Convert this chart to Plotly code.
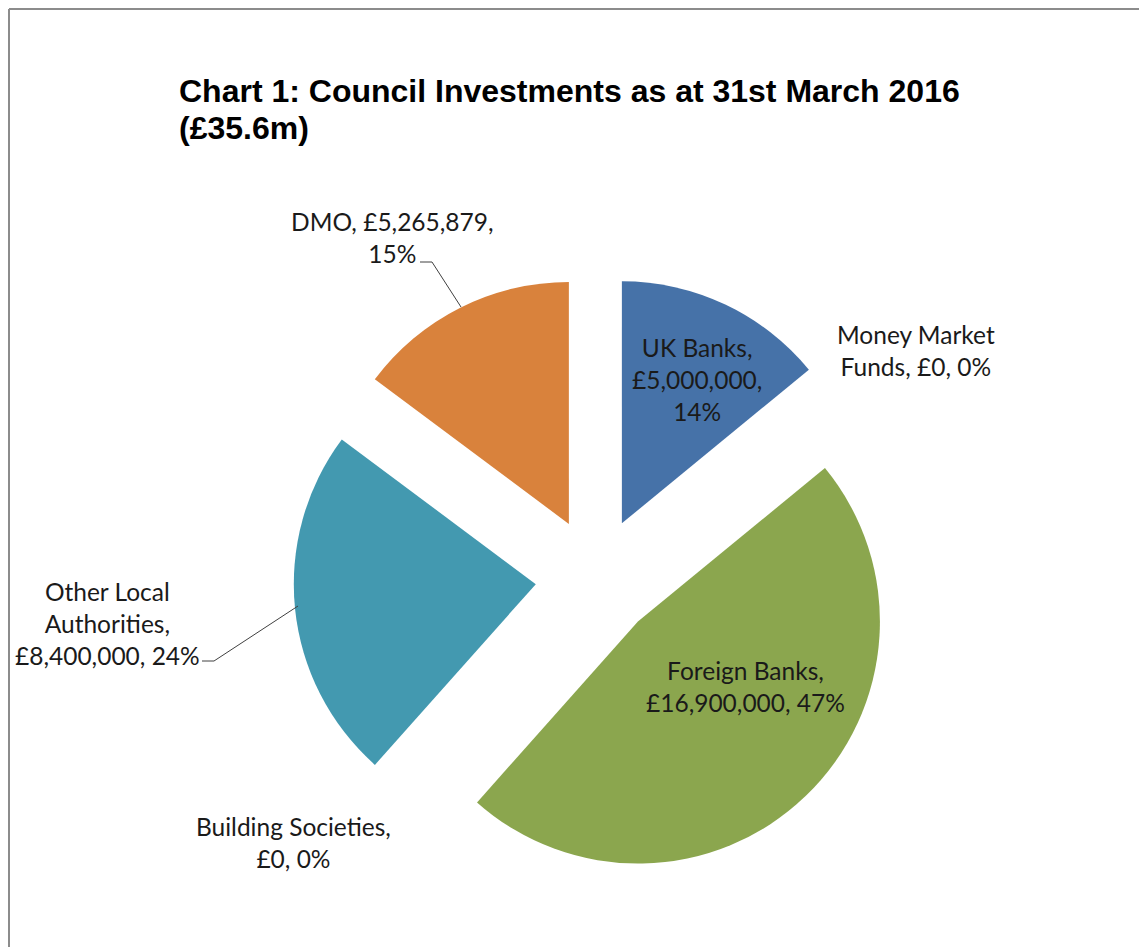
import plotly.graph_objects as go

# ---- data ----
categories = ["UK Banks", "Money Market Funds", "Foreign Banks",
              "Building Societies", "Other Local Authorities", "DMO"]
values = [5000000, 0, 16900000, 0, 8400000, 5265879]
percents = [14, 0, 47, 0, 24, 15]
colors = ["#4672A8", "#8FA9D0", "#8BA64E", "#B8C9E0", "#4399B0", "#D9823C"]

title_lines = ["Chart 1: Council Investments as at 31st March 2016", "(£35.6m)"]

# how each label wraps in the reference
label_lines = [
    ["UK Banks,", "£{v},", "{p}%"],
    ["Money Market", "Funds, £{v}, {p}%"],
    ["Foreign Banks,", "£{v}, {p}%"],
    ["Building Societies,", "£{v}, {p}%"],
    ["Other Local", "Authorities,", "£{v}, {p}%"],
    ["DMO, £{v},", "{p}%"],
]
# label centres in (screen) pixels
label_pos = [(697, 380), (916, 350), (745, 686), (293, 842), (107, 623), (392, 238)]

W, H = 1147, 947
OFF = 8  # page body margin


def px(x):
    return (x - OFF) / W


def py(y):
    return 1 - (y - OFF) / H


fig = go.Figure()
fig.add_trace(go.Pie(
    labels=categories,
    values=values,
    sort=False,
    direction="clockwise",
    rotation=0,
    pull=0.25,
    marker=dict(colors=colors, line=dict(width=0)),
    textinfo="none",
    hoverinfo="label+value+percent",
    showlegend=False,
    domain=dict(x=[px(596 - 302.5), px(596 + 302.5)],
                y=[py(578 + 302.5), py(578 - 302.5)]),
))

annotations = []
for cat, v, p, lines, (cx, cy) in zip(categories, values, percents, label_lines, label_pos):
    txt = "<br>".join(l.format(v=f"{v:,}", p=p) for l in lines)
    annotations.append(dict(
        text=txt, x=px(cx), y=py(cy), xref="paper", yref="paper",
        xanchor="center", yanchor="middle", showarrow=False, align="center",
        font=dict(family="Lato, sans-serif", size=24.5, color="#1a1a1a"),
    ))

for i, line in enumerate(title_lines):
    annotations.append(dict(
        text=f"<b>{line}</b>",
        x=px(177), y=py(103 + 37 * i), xref="paper", yref="paper",
        xanchor="left", yanchor="bottom", yshift=-8, showarrow=False, align="left",
        font=dict(family="Liberation Sans, Arial, sans-serif", size=32, color="#000000"),
    ))

shapes = [
    # chart frame (top and left edges visible)
    dict(type="line", xref="paper", yref="paper", x0=px(9), y0=py(9), x1=1.0, y1=py(9),
         line=dict(color="#8c8c8c", width=2)),
    dict(type="line", xref="paper", yref="paper", x0=px(9), y0=py(9), x1=px(9), y1=0.0,
         line=dict(color="#8c8c8c", width=2)),
    # leader lines
    dict(type="path", xref="paper", yref="paper",
         path=f"M {px(420)},{py(262)} L {px(432)},{py(262)} L {px(461)},{py(307)}",
         line=dict(color="#404040", width=1)),
    dict(type="path", xref="paper", yref="paper",
         path=f"M {px(202)},{py(661)} L {px(214)},{py(661)} L {px(298)},{py(606)}",
         line=dict(color="#404040", width=1)),
]

fig.update_layout(
    width=W, height=H,
    margin=dict(l=0, r=0, t=0, b=0),
    paper_bgcolor="white", plot_bgcolor="white",
    annotations=annotations, shapes=shapes,
)

fig.write_html("out.html")
